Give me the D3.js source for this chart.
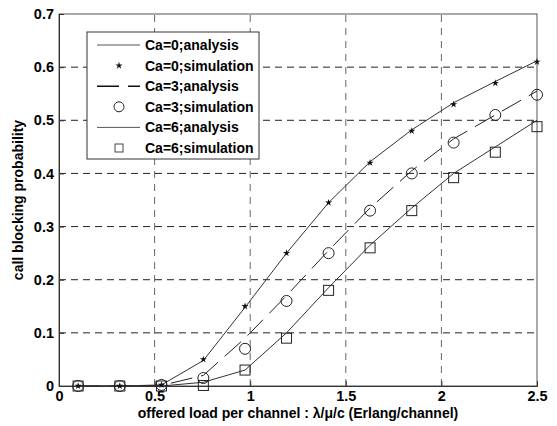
<!DOCTYPE html>
<html>
<head>
<meta charset="utf-8">
<script src="https://d3js.org/d3.v7.min.js"></script>
<style>
 body { margin: 0; background: #fff; }
 text { font-family: "Liberation Sans", Arial, sans-serif; font-weight: bold; }
</style>
</head>
<body>
<script>
 // offered load per channel, 12 sample points
 var loads = [0.1, 0.318, 0.536, 0.755, 0.973, 1.19, 1.41, 1.627, 1.845, 2.064, 2.282, 2.5];

 var ca0_analysis = [0, 0, 0.002, 0.048, 0.148, 0.25, 0.345, 0.422, 0.482, 0.533, 0.573, 0.612];
 var ca0_sim      = [0, 0, 0.002, 0.05, 0.15, 0.25, 0.345, 0.42, 0.48, 0.53, 0.57, 0.61];
 var ca3_analysis = [0, 0, 0.001, 0.02, 0.09, 0.17, 0.255, 0.335, 0.405, 0.465, 0.51, 0.555];
 var ca3_sim      = [0, 0, 0.002, 0.015, 0.07, 0.16, 0.25, 0.33, 0.40, 0.458, 0.51, 0.548];
 var ca6_analysis = [0, 0, 0, 0.007, 0.03, 0.1, 0.185, 0.265, 0.335, 0.40, 0.45, 0.50];
 var ca6_sim      = [0, 0, 0, 0.001, 0.03, 0.09, 0.18, 0.26, 0.33, 0.392, 0.44, 0.488];

 var xticks = [0, 0.5, 1, 1.5, 2, 2.5];
 var yticks = [0, 0.1, 0.2, 0.3, 0.4, 0.5, 0.6, 0.7];

 var legend_labels = ['Ca=0;analysis','Ca=0;simulation','Ca=3;analysis','Ca=3;simulation','Ca=6;analysis','Ca=6;simulation'];

 var W = 557, H = 426;
 var margin = {left: 59, right: 20, top: 14, bottom: 40};

 var svg = d3.select('body').append('svg')
	     .attr('width', W)
	     .attr('height', H);

 var x = d3.scaleLinear().domain([0, 2.5]).range([margin.left, W - margin.right]);
 var y = d3.scaleLinear().domain([0, 0.7]).range([H - margin.bottom, margin.top]);

 //grid lines
 svg.append('g')
    .selectAll('line')
    .data(yticks.slice(1, -1))
    .enter().append('line')
    .attr('x1', x(0)).attr('x2', x(2.5))
    .attr('y1', function(d) { return y(d); })
    .attr('y2', function(d) { return y(d); })
    .attr('stroke', '#222')
    .attr('stroke-width', 1)
    .attr('stroke-dasharray', '7,5');

 svg.append('g')
    .selectAll('line')
    .data(xticks.slice(1, -1))
    .enter().append('line')
    .attr('y1', y(0)).attr('y2', y(0.7))
    .attr('x1', function(d) { return x(d); })
    .attr('x2', function(d) { return x(d); })
    .attr('stroke', '#666')
    .attr('stroke-width', 1)
    .attr('stroke-dasharray', '7,6');

 //box
 svg.append('rect')
    .attr('x', x(0)).attr('y', y(0.7))
    .attr('width', x(2.5) - x(0))
    .attr('height', y(0) - y(0.7))
    .attr('fill', 'none')
    .attr('stroke', '#555')
    .attr('stroke-width', 1);

 //axes
 var xAxis = d3.axisBottom(x).tickValues(xticks).tickSize(-5).tickPadding(5)
	       .tickFormat(d3.format('~g'));
 var yAxis = d3.axisLeft(y).tickValues(yticks).tickSize(-5).tickPadding(5)
	       .tickFormat(d3.format('~g'));

 var gx = svg.append('g').attr('transform', 'translate(0,' + y(0) + ')').call(xAxis);
 var gy = svg.append('g').attr('transform', 'translate(' + x(0) + ',0)').call(yAxis);
 [gx, gy].forEach(function(g) {
     g.select('.domain').attr('stroke', '#333');
     g.selectAll('.tick line').attr('stroke', '#333');
     g.selectAll('text').style('font-size', '14.5px').attr('fill', '#000');
 });

 svg.append('text')
    .attr('x', (x(0) + x(2.5)) / 2)
    .attr('y', 418)
    .attr('text-anchor', 'middle')
    .style('font-size', '14px')
    .text('offered load per channel : \u03bb/\u03bc/c (Erlang/channel)');

 svg.append('text')
    .attr('transform', 'translate(23,' + (y(0.35)) + ') rotate(-90)')
    .attr('text-anchor', 'middle')
    .style('font-size', '14px')
    .text('call blocking probability');

 //curves
 function pts(vals) { return loads.map(function(d, i) { return [d, vals[i]]; }); }
 var line = d3.line().x(function(d) { return x(d[0]); }).y(function(d) { return y(d[1]); });

 svg.append('path').datum(pts(ca0_analysis)).attr('d', line)
    .attr('fill', 'none').attr('stroke', '#333').attr('stroke-width', 1);
 svg.append('path').datum(pts(ca3_analysis)).attr('d', line)
    .attr('fill', 'none').attr('stroke', '#222').attr('stroke-width', 1)
    .attr('stroke-dasharray', '22,9');
 svg.append('path').datum(pts(ca6_analysis)).attr('d', line)
    .attr('fill', 'none').attr('stroke', '#333').attr('stroke-width', 1);

 //markers
 var star = d3.symbol().type(d3.symbolStar).size(16);
 svg.append('g').selectAll('path')
    .data(pts(ca0_sim)).enter().append('path')
    .attr('d', star)
    .attr('transform', function(d) { return 'translate(' + x(d[0]) + ',' + y(d[1]) + ')'; })
    .attr('fill', '#111');

 svg.append('g').selectAll('circle')
    .data(pts(ca3_sim)).enter().append('circle')
    .attr('cx', function(d) { return x(d[0]); })
    .attr('cy', function(d) { return y(d[1]); })
    .attr('r', 5.5)
    .attr('fill', 'none').attr('stroke', '#222').attr('stroke-width', 1);

 svg.append('g').selectAll('rect')
    .data(pts(ca6_sim)).enter().append('rect')
    .attr('x', function(d) { return x(d[0]) - 5; })
    .attr('y', function(d) { return y(d[1]) - 5; })
    .attr('width', 10).attr('height', 10)
    .attr('fill', 'none').attr('stroke', '#222').attr('stroke-width', 1);

 //legend
 var lg = svg.append('g').attr('transform', 'translate(87,32)');
 lg.append('rect').attr('width', 172).attr('height', 127)
   .attr('fill', '#fff').attr('stroke', '#333').attr('stroke-width', 1);
 var ly = d3.scaleLinear().domain([0, 5]).range([13, 116]);
 legend_labels.forEach(function(lbl, i) {
     var yy = ly(i);
     if (i % 2 == 0) {
	 var l = lg.append('line').attr('x1', 10).attr('x2', 53)
		   .attr('y1', yy).attr('y2', yy)
		   .attr('stroke', i == 2 ? '#111' : '#555')
		   .attr('stroke-width', i == 2 ? 1.5 : 1);
	 if (i == 2) l.attr('stroke-dasharray', '22,9');
     } else if (i == 1) {
	 lg.append('path').attr('d', star).attr('transform', 'translate(32,' + yy + ')').attr('fill', '#111');
     } else if (i == 3) {
	 lg.append('circle').attr('cx', 32).attr('cy', yy).attr('r', 5)
	   .attr('fill', 'none').attr('stroke', '#222');
     } else {
	 lg.append('rect').attr('x', 28).attr('y', yy - 4).attr('width', 8).attr('height', 8)
	   .attr('fill', 'none').attr('stroke', '#444');
     }
     lg.append('text').attr('x', 58).attr('y', yy + 5)
       .style('font-size', '14px').text(lbl);
 });
</script>
</body>
</html>
